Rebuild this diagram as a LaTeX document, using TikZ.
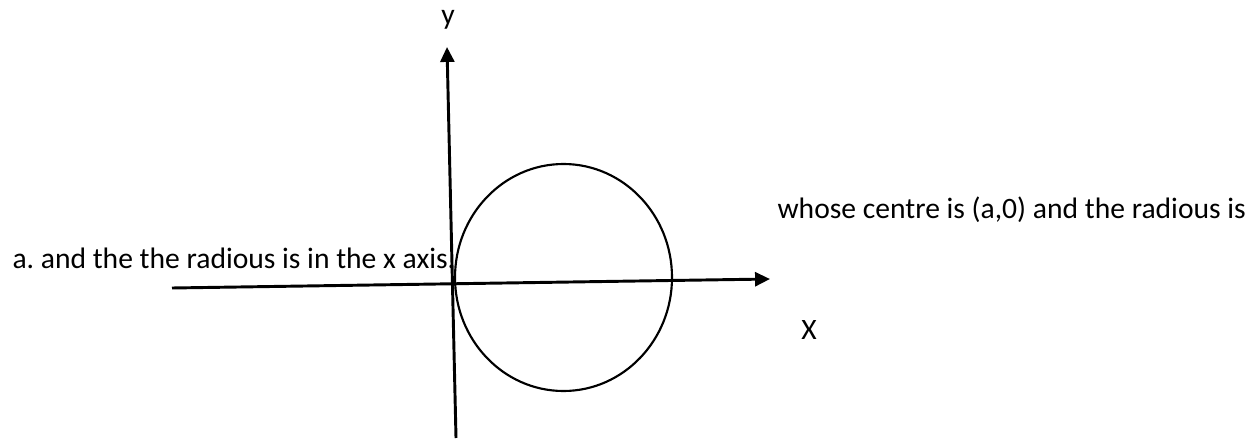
\documentclass[tikz,border=0pt]{standalone}
\usepackage{fontspec}
\setmainfont{Carlito}
\usepackage{tikz}
\usetikzlibrary{positioning,arrows.meta}
\frenchspacing

\begin{document}
\begin{tikzpicture}[x=0.375pt, y=-0.375pt,
				axis/.style={-{Triangle[length=5.6pt, width=5.2pt]}, line width=1.1pt, black},
				curve/.style={draw=black, line width=0.8pt},
				lbl/.style={inner sep=0pt, font=\fontsize{11.1}{13}\selectfont}
				]
				\useasboundingbox (0,0) rectangle (1251,442);
				% axes
				\coordinate (ybot) at (456,438);
				\coordinate (ytop) at (447,47);
				\coordinate (xleft) at (172,288);
				\coordinate (xright) at (770,279);
				\draw[axis] (ybot) -- (ytop);
				\draw[axis] (xleft) -- (xright);
				% circle centred at (a,0)
				\draw[curve] (563.5,277.5) ellipse [x radius=108.5, y radius=113.5];
				% labels
				\node[lbl] (ylab) at (448,20) {y};
				\node[lbl] (xlab) at (809,330) {X};
				\node[lbl, anchor=base west] (note2) at (12,268) {a. and the the radious is in the x axis.};
				\node[lbl, anchor=base west] (note1) at (777,218) {whose centre is (a,0) and the radious is};
			\end{tikzpicture}
\end{document}
